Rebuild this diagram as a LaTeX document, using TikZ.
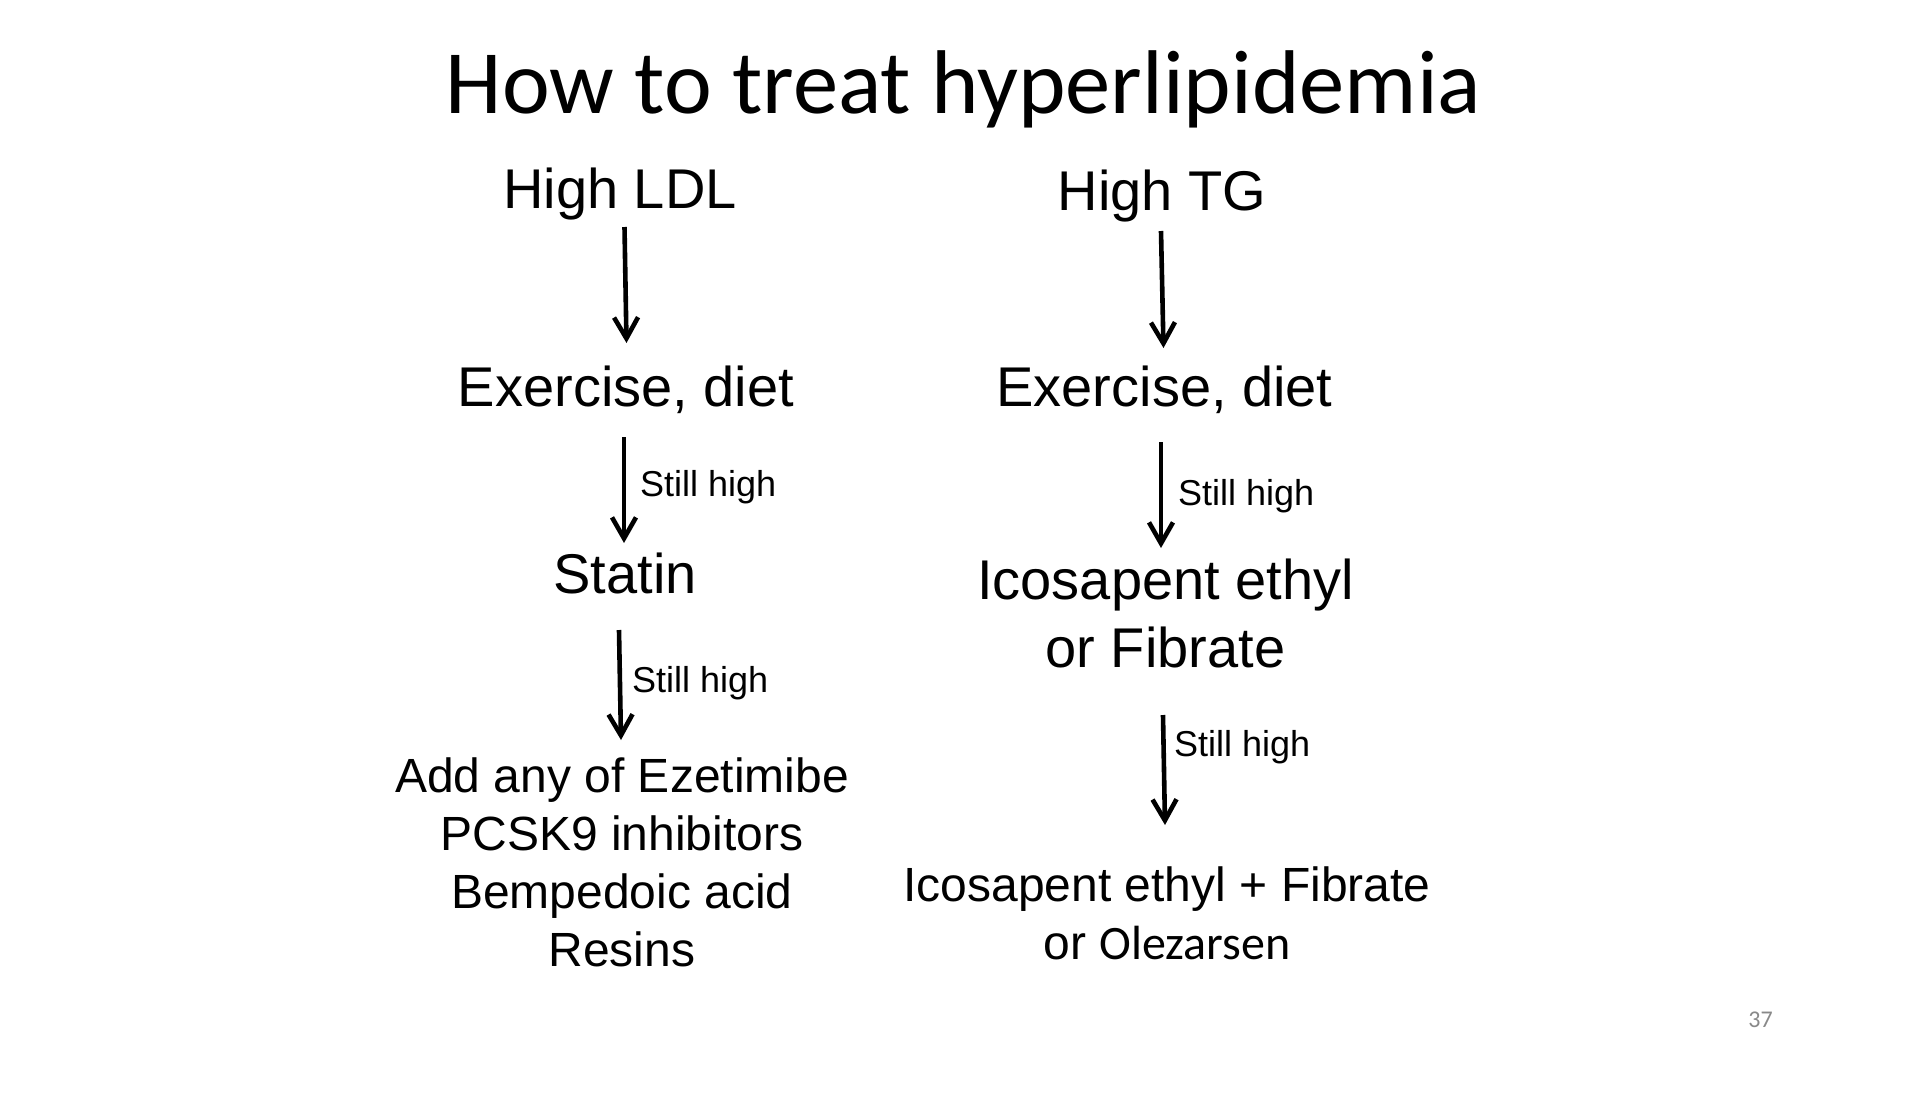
\documentclass[tikz,border=0pt]{standalone}
\usepackage{fontspec}
\setmainfont{Liberation Sans}
\newfontfamily\calibri{Carlito}
\usetikzlibrary{arrows.meta,calc}
\definecolor{pagegray}{RGB}{137,137,137}
\tikzset{
  lbl/.style={inner sep=0pt, anchor=base},
  big/.style={lbl, font=\fontsize{56}{68}\selectfont},
  mid/.style={lbl, font=\fontsize{48}{58}\selectfont},
  note/.style={inner sep=0pt, anchor=base west, font=\fontsize{36}{43}\selectfont},
  flow/.style={line width=4.6pt, -{Straight Barb[length=21pt,width=24pt]}},
}
\begin{document}
\begin{tikzpicture}[x=1pt,y=-1pt]
\useasboundingbox[fill=white] (0,0) rectangle (1920,1104);
% title
\node[lbl, font=\calibri\fontsize{90.5}{108}\selectfont] (title) at (963.5,113) {How to treat hyperlipidemia};
% left column
\node[big] (hldl) at (620,208) {High LDL};
\node[big] (exl) at (626,406) {Exercise, diet};
\node[big] (statin) at (625,593) {Statin};
\node[mid] (addl) at (622,792) {\begin{tabular}[t]{@{}c@{}}Add any of Ezetimibe\\PCSK9 inhibitors\\Bempedoic acid\\Resins\end{tabular}};
% right column
\node[big] (htg) at (1162,210) {High TG};
\node[big] (exr) at (1164.5,406) {Exercise, diet};
\node[big] (icor) at (1165.5,599) {\begin{tabular}[t]{@{}c@{}}Icosapent ethyl\\or Fibrate\end{tabular}};
\node[mid] (finr) at (1167,901) {\begin{tabular}[t]{@{}c@{}}Icosapent ethyl + Fibrate\\or {\calibri Olezarsen}\end{tabular}};
% notes
\node[note] (s1) at (640,496) {Still high};
\node[note] (s2) at (632,692) {Still high};
\node[note] (s3) at (1178,505) {Still high};
\node[note] (s4) at (1174,756) {Still high};
% page number
\node[lbl, font=\calibri\fontsize{24}{29}\selectfont, text=pagegray] (page) at (1760.5,1027) {37};
% arrows
\draw[flow] ($(hldl.base)+(4.5,19)$) -- ($(exl.base)+(0.5,-63)$);
\draw[flow] ($(exl.base)+(-2,31)$) -- ($(statin.base)+(-1,-50)$);
\draw[flow] ($(statin.base)+(-6,37)$) -- ($(addl.base)+(-1,-52)$);
\draw[flow] ($(htg.base)+(-1,21)$) -- ($(exr.base)+(-1,-58)$);
\draw[flow] ($(exr.base)+(-3.5,36)$) -- ($(icor.base)+(-4.5,-51)$);
\draw[flow] ($(icor.base)+(-2.5,116)$) -- ($(finr.base)+(-2,-76)$);
\end{tikzpicture}
\end{document}
